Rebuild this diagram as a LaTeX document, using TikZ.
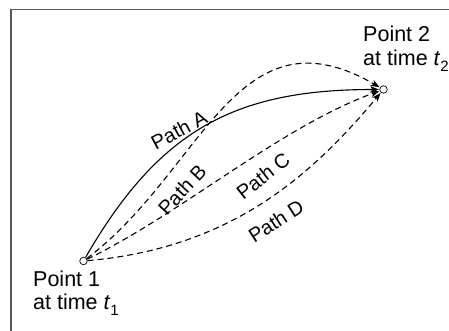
\documentclass[tikz,border=0pt]{standalone}
\usepackage{fontspec}
\setmainfont{Liberation Sans}
\usetikzlibrary{arrows.meta,calc}
\newcommand{\lowsub}[1]{\raisebox{-0.28em}{\fontsize{15}{15}\selectfont #1}}
\begin{document}
\begin{tikzpicture}[x=1pt,y=1pt,
  pt/.style={circle,draw,fill=white,inner sep=0pt,minimum size=7.5pt,line width=0.7pt},
  caption/.style={font=\fontsize{21.5}{23}\selectfont,inner sep=0pt,anchor=base west},
  pathlabel/.style={font=\fontsize{20}{23}\selectfont,inner sep=0pt},
  route/.style={line width=1.1pt,-{Stealth[length=8.5pt,width=6.5pt,inset=2pt]},shorten >=0.5pt},
  alt/.style={route,dash pattern=on 6pt off 4pt}]
\useasboundingbox (0,0) rectangle (449,330);
% frame
\draw[line width=1.4pt,black!65] (11,-20) |- (480,320.5);
% end points
\node[pt] (p1) at (83.5,69) {};
\node[pt] (p2) at (383.5,240.5) {};
% captions
\node[caption] (p1a) at (33,44) {Point 1};
\node[caption] (p1b) at (33,20.5) {at time \textit{t}\lowsub{1}};
\node[caption] (p2a) at (363,288.3) {Point 2};
\node[caption] (p2b) at (363,265) {at time \textit{t}\lowsub{2}};
% paths
\draw[route] (p1) .. controls ($(p1)+(60:150)$) and ($(p2)+(180:150)$) .. (p2);
\draw[alt] (p1) .. controls ($(p1)+(37:150)$) and ($(p2)+(150:170)$) .. (p2);
\draw[alt] (p1) .. controls ($(p1)+(26:110)$) and ($(p2)+(200:110)$) .. (p2);
\draw[alt] (p1) .. controls ($(p1)+(5:150)$) and ($(p2)+(230:110)$) .. (p2);
% path labels
\node[pathlabel,rotate=28] (la) at (179,200) {Path A};
\node[pathlabel,rotate=47] (lb) at (182,140) {Path B};
\node[pathlabel,rotate=38] (lc) at (263,154) {Path C};
\node[pathlabel,rotate=33] (ld) at (276,109) {Path D};
\end{tikzpicture}
\end{document}
